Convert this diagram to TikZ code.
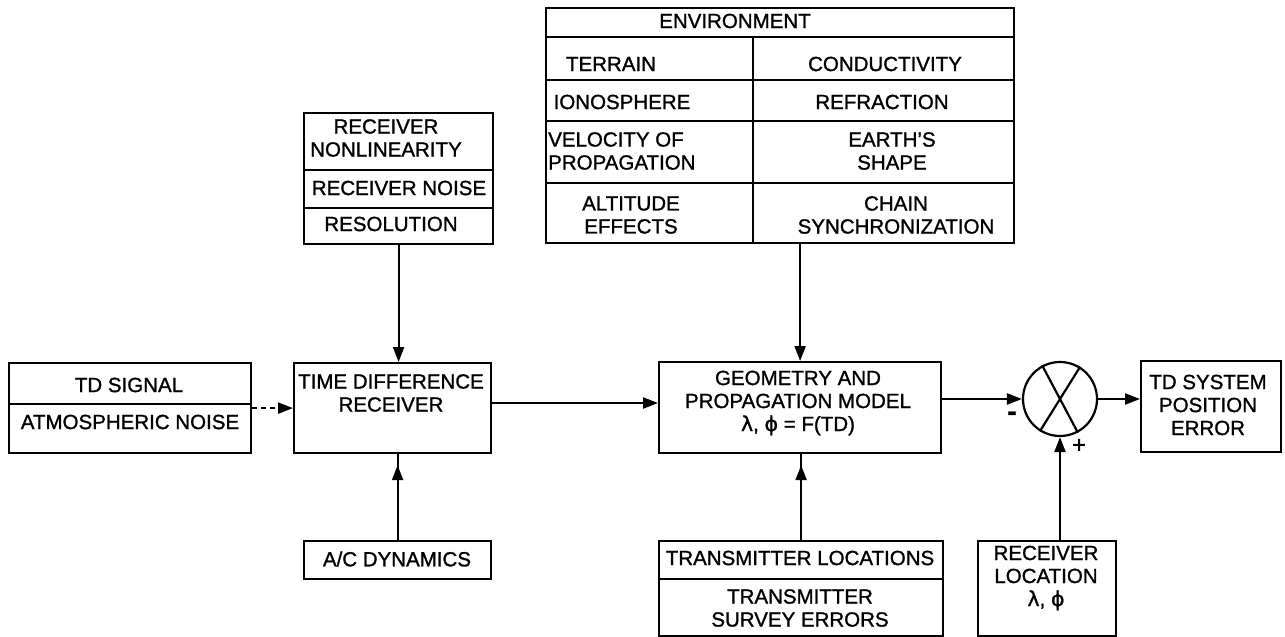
\documentclass[tikz,border=0pt]{standalone}
\usepackage{fontspec}
\setmainfont[FakeBold=1.2]{Liberation Sans}
\newfontfamily\grk[FakeBold=1.2]{DejaVu Sans}
\usetikzlibrary{arrows.meta,calc}

\begin{document}
\begin{tikzpicture}[x=1pt,y=-1pt,
  every node/.style={font=\fontsize{20.5}{23}\selectfont},
  cell/.style={draw, line width=2.2pt, inner sep=0pt, anchor=north west},
  lbl/.style={align=center, inner sep=0pt},
  flow/.style={line width=2.2pt},
  tip/.style={line width=2.2pt, -{Triangle[length=15pt,width=11pt]}},
]
\useasboundingbox (0,0) rectangle (1285,637);

% input signal block
\node[cell, minimum width=242pt, minimum height=41pt] (sig) at (8,362) {};
\node[cell, minimum width=242pt, minimum height=49pt] (noise) at (8,403) {};
\node[lbl] (tsig) at (129,385) {TD SIGNAL};
\node[lbl] (tnoise) at (130,422) {ATMOSPHERIC NOISE};

% receiver
\node[cell, minimum width=197pt, minimum height=90pt] (tdr) at (293,362) {};
\node[lbl] (ttdr) at (391,393) {TIME DIFFERENCE\\RECEIVER};

% receiver error sources
\node[cell, minimum width=189pt, minimum height=57pt] (rn1) at (303,112) {};
\node[cell, minimum width=189pt, minimum height=38pt] (rn2) at (303,169) {};
\node[cell, minimum width=189pt, minimum height=36pt] (rn3) at (303,207) {};
\node[lbl] (trn1) at (386,138) {RECEIVER\\NONLINEARITY};
\node[lbl] (trn2) at (399,188) {RECEIVER NOISE};
\node[lbl] (trn3) at (391,224) {RESOLUTION};

% aircraft dynamics
\node[cell, minimum width=187pt, minimum height=38pt] (acd) at (303,540) {};
\node[lbl] (tacd) at (397,559) {A/C DYNAMICS};

% environment table
\node[cell, minimum width=468pt, minimum height=29pt] (env) at (545,7) {};
\node[cell, minimum width=207pt, minimum height=43pt] (e11) at (545,36) {};
\node[cell, minimum width=261pt, minimum height=43pt] (e12) at (752,36) {};
\node[cell, minimum width=207pt, minimum height=41pt] (e21) at (545,79) {};
\node[cell, minimum width=261pt, minimum height=41pt] (e22) at (752,79) {};
\node[cell, minimum width=207pt, minimum height=62pt] (e31) at (545,120) {};
\node[cell, minimum width=261pt, minimum height=62pt] (e32) at (752,120) {};
\node[cell, minimum width=207pt, minimum height=60pt] (e41) at (545,182) {};
\node[cell, minimum width=261pt, minimum height=60pt] (e42) at (752,182) {};
\node[lbl] (tenv) at (735,21) {ENVIRONMENT};
\node[lbl] (t11) at (611,64) {TERRAIN};
\node[lbl] (t21) at (622,102) {IONOSPHERE};
\node[lbl, align=left, anchor=west] (t31) at (548,151) {VELOCITY OF\\PROPAGATION};
\node[lbl] (t41) at (631,215) {ALTITUDE\\EFFECTS};
\node[lbl] (t12) at (885,64) {CONDUCTIVITY};
\node[lbl] (t22) at (882,102) {REFRACTION};
\node[lbl] (t32) at (892,151) {EARTH'S\\SHAPE};
\node[lbl] (t42) at (896,215) {CHAIN\\SYNCHRONIZATION};

% navigation model
\node[cell, minimum width=282pt, minimum height=91pt] (geo) at (658,361) {};
\node[lbl] (tgeo) at (798,403) {GEOMETRY AND\\PROPAGATION MODEL\\{\grk λ}, {\grk ϕ} = F(TD)};

% transmitter data
\node[cell, minimum width=284pt, minimum height=38pt] (tx1) at (658,540) {};
\node[cell, minimum width=284pt, minimum height=57pt] (tx2) at (658,578) {};
\node[lbl] (ttx1) at (800,558) {TRANSMITTER LOCATIONS};
\node[lbl] (ttx2) at (800,608) {TRANSMITTER\\SURVEY ERRORS};

% summing junction
\node[draw, circle, line width=2.2pt, minimum size=74pt, inner sep=0pt] (sj) at (1060,399) {};
\draw[flow] (sj.118) -- (sj.298);
\draw[flow] (sj.58) -- (sj.238);
\node[lbl, font=\fontsize{28}{28}\bfseries] (minus) at (1012,416) {-};
\node[lbl, font=\fontsize{24}{24}\selectfont] (plus) at (1079,446) {+};

% true receiver position
\node[cell, minimum width=138pt, minimum height=95pt] (rl) at (977,540) {};
\node[lbl] (trl) at (1046,578) {RECEIVER\\LOCATION\\{\grk λ}, {\grk ϕ}};

% output
\node[cell, minimum width=140pt, minimum height=91pt] (tdpe) at (1140,360) {};
\node[lbl] (ttdpe) at (1208,405) {TD SYSTEM\\POSITION\\ERROR};

% connectors
\draw[tip, dash pattern=on 5pt off 4pt] (noise.north east |- tdr.west) -- (tdr.west);
\draw[tip] (rn3.south) -- (rn3.south |- tdr.north);
\draw[flow] (acd.north) -- (acd.north |- tdr.south);
\draw[tip] (acd.north) -- ($(acd.north |- tdr.south)+(0,11)$);
\draw[tip] (tdr.east |- 0,403) -- (geo.west |- 0,403);
\draw[tip] (geo.north |- e42.south) -- (geo.north);
\draw[flow] (tx1.north) -- (tx1.north |- geo.south);
\draw[tip] (tx1.north) -- ($(tx1.north |- geo.south)+(0,11)$);
\draw[tip] (geo.east |- sj.west) -- (sj.west);
\draw[tip] (sj.east) -- (tdpe.west |- sj.east);
\draw[tip] (sj.south |- rl.north) -- (sj.south);
\end{tikzpicture}
\end{document}
